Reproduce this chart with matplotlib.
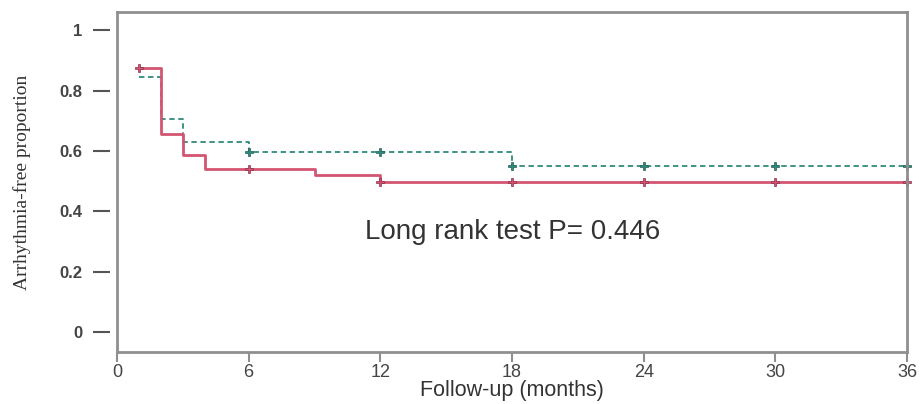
import matplotlib.pyplot as plt

# step times and survival values
red_t = [1, 2, 3, 4, 9, 12, 36]
red_s = [0.875, 0.655, 0.588, 0.54, 0.52, 0.497, 0.497]
green_t = [1, 2, 3, 6, 18, 36]
green_s = [0.845, 0.705, 0.63, 0.596, 0.55, 0.55]

# censor marks
red_cens_t = [1, 6, 12, 18, 24, 30, 36]
red_cens_s = [0.875, 0.54, 0.497, 0.497, 0.497, 0.497, 0.497]
green_cens_t = [6, 12, 18, 24, 30, 36]
green_cens_s = [0.596, 0.596, 0.55, 0.55, 0.55, 0.55]

xticks = [0, 6, 12, 18, 24, 30, 36]
yticks = [0, 0.2, 0.4, 0.6, 0.8, 1]
ylabels = ["0", "0.2", "0.4", "0.6", "0.8", "1"]

red = "#d35572"
green = "#2f8a7c"
gray = "#8f8f8f"

fig = plt.figure(figsize=(9.21, 4.04), dpi=100)
ax = fig.add_axes([0.127, 0.129, 0.858, 0.841])

ax.step(green_t, green_s, where="post", color=green, lw=1.3, ls=(0, (3, 2)))
ax.step(red_t, red_s, where="post", color=red, lw=2)
ax.plot(green_cens_t, green_cens_s, ls="none", marker="P", ms=6, color=green,
        markeredgecolor="#1f5f55", markeredgewidth=0.5, clip_on=False)
ax.plot(red_cens_t, red_cens_s, ls="none", marker="P", ms=6, color=red,
        markeredgecolor="#8a3048", markeredgewidth=0.5, clip_on=False)

ax.text(11.3, 0.33, "Long rank test P= 0.446", fontsize=20, color="#333333",
        family="Liberation Sans", va="center")

ax.set_xlim(0, 36)
ax.set_ylim(-0.066, 1.06)
ax.set_xticks(xticks)
ax.set_yticks(yticks)
ax.set_yticklabels(ylabels)

for s in ax.spines.values():
    s.set_color(gray)
    s.set_linewidth(2)
ax.spines["left"].set_position(("outward", 5))
ax.spines["left"].set_color("none")
ax.axvline(0, color=gray, lw=2, clip_on=False)

ax.tick_params(axis="y", length=12, width=1.5, color="#555555", pad=8,
               labelsize=12, labelcolor="#444444")
ax.tick_params(axis="x", length=7, width=1.5, color=gray, pad=2,
               labelsize=13, labelcolor="#444444")
for lab in ax.get_yticklabels():
    lab.set_family("Liberation Sans")
    lab.set_fontweight("bold")
for lab in ax.get_xticklabels():
    lab.set_family("Liberation Sans")

ax.set_xlabel("Follow-up (months)", fontsize=15.5, color="#333333",
              family="Liberation Sans", labelpad=-1)
ax.set_ylabel("Arrhythmia-free proportion", fontsize=14, color="#333333",
              family="Liberation Serif", labelpad=20)

fig.savefig("out.png", dpi=100, facecolor="white")
